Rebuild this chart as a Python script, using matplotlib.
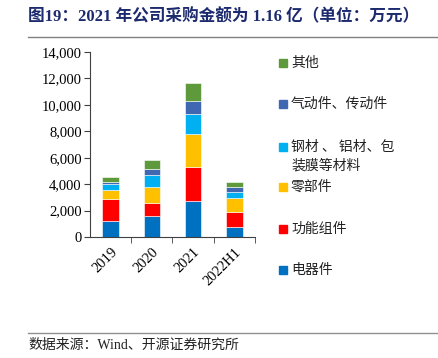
import matplotlib
matplotlib.use('Agg')
import matplotlib.pyplot as plt
from matplotlib.lines import Line2D
import numpy as np

plt.rcParams['font.family'] = ['Liberation Serif', 'Noto Sans CJK SC']

# ---------------------------------------------------------------------------
# Data (万元)
# ---------------------------------------------------------------------------
years = ['2019', '2020', '2021', '2022H1']
series_names = ['电器件', '功能组件', '零部件', '钢材 、 铝材、包\n装膜等材料', '气动件、传动件', '其他']
electric = [1240, 1620, 2735, 785]
functional = [1670, 960, 2530, 1090]
parts = [635, 1190, 2530, 1040]
materials = [430, 940, 1520, 455]
pneumatic = [150, 430, 960, 405]
other = [400, 660, 1370, 405]
colors = ['#0070C0', '#FF0000', '#FFC000', '#00B0F0', '#4068B2', '#5E9A3C']

fig = plt.figure(figsize=(4.39, 3.58), dpi=100)
W, H = 439, 358
ax = fig.add_axes([90 / W, 1 - 237 / H, 165 / W, 185 / H])

x = np.arange(len(years))
bottom = np.zeros(len(years))
for vals, col in zip([electric, functional, parts, materials, pneumatic, other], colors):
    ax.bar(x, vals, bottom=bottom, width=0.4, color=col, edgecolor='white', linewidth=0.4)
    bottom += np.array(vals)

ax.set_xlim(-0.5, 3.5)
ax.set_ylim(0, 14000)
ax.set_yticks(range(0, 14001, 2000))
ax.set_yticklabels([f'{v:,}' for v in range(0, 14001, 2000)], fontsize=10.5)
ax.set_xticks(x)
ax.set_xticklabels(years, rotation=45, ha='right', rotation_mode='anchor', fontsize=10.5)
ax.tick_params(axis='x', length=0, pad=6)
ax.set_xticks(np.arange(0.5, 4, 1), minor=True)
ax.tick_params(axis='x', which='minor', length=4, color='#404040')
ax.tick_params(axis='y', length=4, color='#404040', pad=2)
for s in ['top', 'right']:
    ax.spines[s].set_visible(False)
for s in ['left', 'bottom']:
    ax.spines[s].set_color('#404040')
    ax.spines[s].set_linewidth(0.8)

# legend (top to bottom)
cjk = ['Noto Sans CJK SC']
leg_y = [63, 104, 147, 187, 229, 270]
for name, col, yy in zip(series_names[::-1], colors[::-1], leg_y):
    fig.patches.append(plt.Rectangle((279 / W, 1 - (yy + 4) / H), 8 / W, 8 / H,
                                     transform=fig.transFigure, color=col))
    lines = name.split('\n')
    for i, ln in enumerate(lines):
        fig.text(291 / W, 1 - (yy + i * 19) / H, ln, fontsize=10, family=cjk,
                 va='center', ha='left', color='#222222')

# title and footer
fig.text(28 / W, 1 - 17 / H, '图19：2021 年公司采购金额为 1.16 亿（单位：万元）',
         fontsize=12, fontweight='bold', color='#1C2A6E', va='center', ha='left',
         family=['Liberation Serif', 'Noto Sans CJK SC'])
fig.add_artist(Line2D([28 / W, 1], [1 - 37 / H, 1 - 37 / H], color='#808080', lw=1.0))
fig.add_artist(Line2D([28 / W, 1], [1 - 333 / H, 1 - 333 / H], color='#909090', lw=1.0))
fig.text(28 / W, 1 - 345 / H, '数据来源：Wind、开源证券研究所', fontsize=10, color='#222222',
         va='center', ha='left', family=['Liberation Serif', 'Noto Sans CJK SC'])

fig.savefig('out.png', dpi=100)
